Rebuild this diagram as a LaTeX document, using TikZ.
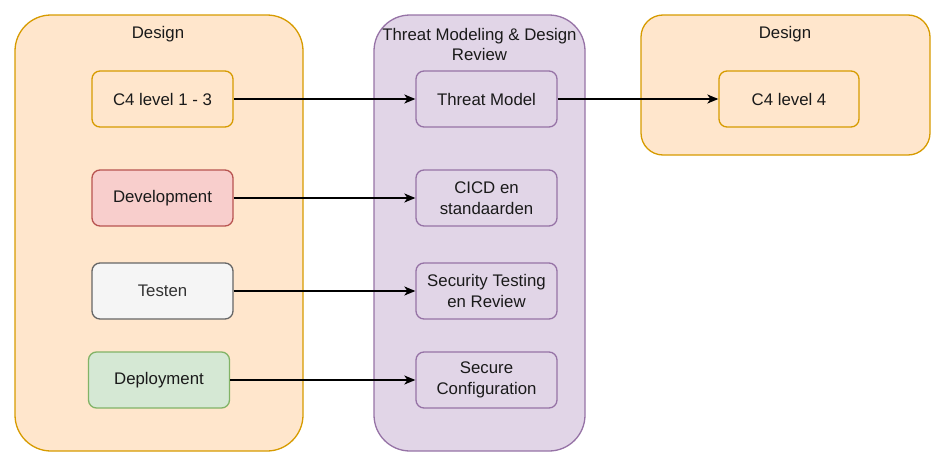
\documentclass[tikz,border=0pt]{standalone}
\usepackage{fontspec}
\setmainfont{Liberation Sans}
\usetikzlibrary{arrows.meta}
\definecolor{orfill}{HTML}{FFE6CC}
\definecolor{orline}{HTML}{D79B00}
\definecolor{rdfill}{HTML}{F8CECC}
\definecolor{rdline}{HTML}{B85450}
\definecolor{gyfill}{HTML}{F5F5F5}
\definecolor{gyline}{HTML}{666666}
\definecolor{gnfill}{HTML}{D5E8D4}
\definecolor{gnline}{HTML}{82B366}
\definecolor{pufill}{HTML}{E1D5E7}
\definecolor{puline}{HTML}{9673A6}
\definecolor{txt}{HTML}{1A1A1A}
\tikzset{
  container/.style={draw, line width=1.3pt, rounded corners=36pt, inner sep=0pt},
  innerbox/.style={draw, line width=1.3pt, rounded corners=8pt, minimum width=141pt, minimum height=56pt, inner sep=0pt, align=center, text=txt, font=\fontsize{16.8}{21}\selectfont},
  title/.style={text=txt, align=center, font=\fontsize{16.8}{20}\selectfont, inner sep=0pt},
  orange/.style={fill=orfill, draw=orline},
  red/.style={fill=rdfill, draw=rdline},
  grey/.style={fill=gyfill, draw=gyline, text=gyline!50!black},
  green/.style={fill=gnfill, draw=gnline},
  purple/.style={fill=pufill, draw=puline},
  conn/.style={draw=black, line width=1.3pt, -{Stealth[length=11pt,width=9pt,inset=3pt]}}
}
\begin{document}
\begin{tikzpicture}[x=1pt,y=-1pt]
\useasboundingbox (0,0) rectangle (945,466);
% containers
\node[container, orange, minimum width=288pt, minimum height=436pt] (L) at (159,233) {};
\node[container, purple, minimum width=211pt, minimum height=436pt] (M) at (479.5,233) {};
\node[container, orange, rounded corners=22pt, minimum width=289pt, minimum height=140pt] (R) at (785.5,85) {};
\node[title] (Lt) at (158,34.5) {Design};
\node[title] (Mt) at (479.5,44) {Threat Modeling \& Design\\Review};
\node[title] (Rt) at (785,34.5) {Design};
% left boxes
\node[innerbox, orange] (c13) at (162.5,99) {C4 level 1 - 3};
\node[innerbox, red] (dev) at (162.5,198) {Development};
\node[innerbox, grey] (tst) at (162.5,291) {Testen};
\node[innerbox, green] (dep) at (159,380) {Deployment};
% middle boxes
\node[innerbox, purple] (tm) at (486.5,99) {Threat Model};
\node[innerbox, purple] (cicd) at (486.5,198) {CICD en\\standaarden};
\node[innerbox, purple] (sec) at (486.5,291) {Security Testing\\en Review};
\node[innerbox, purple] (cfg) at (486.5,380) {Secure\\Configuration};
% right box
\node[innerbox, orange, minimum width=140pt] (c4) at (789,99) {C4 level 4};
% connectors
\draw[conn] (c13) -- (tm);
\draw[conn] (tm) -- (c4);
\draw[conn] (dev) -- (cicd);
\draw[conn] (tst) -- (sec);
\draw[conn] (dep) -- (cfg);
\end{tikzpicture}
\end{document}
